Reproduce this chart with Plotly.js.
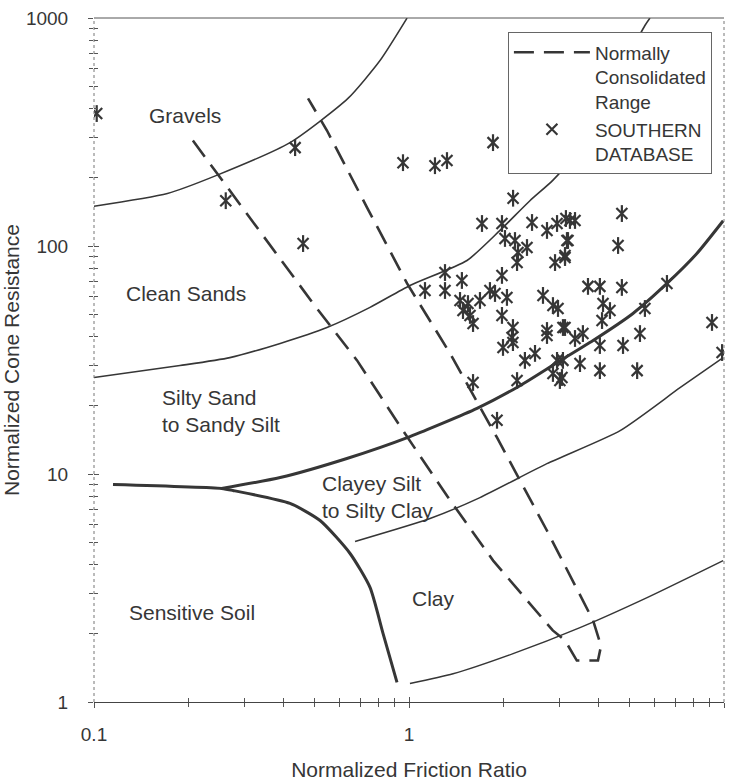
<!DOCTYPE html>
<html>
<head>
<meta charset="utf-8">
<script src="https://cdn.plot.ly/plotly-3.0.1.min.js"></script>
<style>
  html, body { margin: 0; padding: 0; background: #ffffff; }
  #chart { width: 734px; height: 782px; }
</style>
</head>
<body>
<div id="chart"></div>
<script>
// ---------- tick labels ----------
const xTickVals = [0.1, 1, 10];
const xTickText = ['0.1', '1', '10'];
const xMinorVals = [0.2, 0.3, 0.4, 0.5, 0.6, 0.7, 0.8, 0.9, 2, 3, 4, 5, 6, 7, 8, 9];
const yTickVals = [1, 10, 100, 1000];
const yTickText = ['1', '10', '100', '1000'];
const yMinorVals = [2, 3, 4, 5, 6, 7, 8, 9, 20, 30, 40, 50, 60, 70, 80, 90, 200, 300, 400, 500, 600, 700, 800, 900];

// ---------- zone boundaries ----------
const gravelX = [0.1, 0.171, 0.245, 0.419, 0.64, 0.809, 0.986];
const gravelY = [149.5, 170, 204, 284, 444, 651, 1000];

const sandX = [0.1, 0.1875, 0.27, 0.39, 0.549, 0.752, 1.007, 1.528, 1.944, 2.42, 2.86, 3.29, 5.61, 5.82];
const sandY = [26.5, 29.9, 32.4, 37.4, 43.9, 53.8, 67.1, 86.4, 117, 158, 194, 244, 927, 1000];

const siltX = [0.254, 0.39, 0.635, 1.007, 1.644, 2.25, 2.95, 3.84, 5.14, 6.59, 8.2, 9.94];
const siltY = [8.64, 9.65, 11.7, 14.6, 19.4, 24.4, 30.8, 38.5, 50.6, 68.5, 92.7, 129];

const sensitiveX = [0.1149, 0.254, 0.276, 0.419, 0.522, 0.65, 0.752, 0.827, 0.916];
const sensitiveY = [8.99, 8.64, 8.47, 7.43, 6.25, 4.48, 3.18, 2.0, 1.22];

const clayeyX = [0.674, 1.166, 1.68, 2.74, 4.68, 7.25, 9.94];
const clayeyY = [5.06, 6.38, 7.88, 11.1, 15.5, 23.9, 32.4];

const clayX = [1.007, 1.38, 2.14, 3.49, 5.70, 9.94];
const clayY = [1.205, 1.33, 1.63, 2.12, 2.87, 4.17];

// ---------- normally consolidated range ----------
const ncX = [0.206, 0.313, 0.496, 0.684, 0.957, 1.32, 1.85, 2.86, 3.13, 3.41, 3.98, 4.07, 3.84, 2.74, 1.90, 1.35, 0.986, 0.736, 0.549, 0.478];
const ncY = [290, 133, 56, 31.5, 15.5, 8.02, 4.17, 2.06, 1.86, 1.52, 1.52, 1.76, 2.28, 5.65, 14.5, 33.8, 68.5, 147.5, 321, 444];

// ---------- southern database ----------
const dbX = [0.102, 0.435, 0.262, 0.461, 0.957, 1.209, 1.32, 1.848, 4.25,
  2.14, 1.705, 1.973, 2.458, 2.742, 2.951, 3.149, 2.017, 2.17, 2.369,
  2.218, 2.203, 2.908, 3.128, 3.173, 1.301, 1.472, 1.973, 1.124, 1.301,
  1.452, 1.539, 1.68, 1.807, 1.875, 2.046, 1.484, 1.562, 1.597, 1.973,
  2.138, 2.123, 1.988, 2.138, 2.663, 2.864, 2.972, 2.742, 2.742, 3.081,
  2.333, 2.512, 2.951, 2.864, 3.013, 1.597, 2.203, 4.74, 3.243, 3.365,
  3.197, 4.61, 3.128, 3.70, 4.036, 4.74, 4.13, 4.345, 4.10, 5.61,
  6.59, 9.16, 9.86, 5.41, 4.78, 4.036, 3.565, 3.365, 3.128, 3.49,
  4.036, 5.30, 3.081, 3.059, 1.903];
const dbY = [381, 270, 158, 102.5, 232, 225, 237, 284, 230,
  162, 125.5, 125.5, 126.8, 117, 125.5, 132, 107.9, 105.7, 98.5,
  93.6, 84.6, 84.6, 90.9, 105.7, 76.5, 70.6, 74.3, 63.8, 63.8,
  57.7, 55.9, 57.7, 63.8, 61.9, 59.5, 52.1, 49.6, 45.7, 49.6,
  43.9, 39.7, 35.9, 37.7, 60.7, 54.8, 53.2, 42.6, 40.5, 43.9,
  31.5, 33.8, 31.5, 27.6, 25.7, 25.2, 25.7, 138.8, 129.4, 129.4,
  105.7, 100.5, 89.0, 66.5, 66.5, 65.8, 55.9, 52.1, 47.1, 53.2,
  68.5, 46.2, 34.1, 41.3, 36.6, 36.6, 41.3, 39.3, 43.9, 30.5,
  28.4, 28.4, 31.5, 26.5, 17.2];

// ---------- zone labels (log10 positions) ----------
const zoneText = ['Gravels', 'Clean Sands', 'Silty Sand<br>to Sandy Silt', 'Clayey Silt<br>to Silty Clay', 'Sensitive Soil', 'Clay'];
const zoneLogX = [-0.711, -0.708, -0.7905, -0.2825, -0.689, 0.0762];
const zoneLogY = [2.572, 1.792, 1.2785, 0.9013, 0.3925, 0.4539];
const zoneAnchor = ['center', 'center', 'left', 'left', 'center', 'center'];

const INK = '#363636';
const FONT = 'Liberation Sans, Arial, Helvetica, sans-serif';

function boundary(x, y, w) {
  return { x: x, y: y, type: 'scatter', mode: 'lines', showlegend: false, hoverinfo: 'skip',
    line: { color: INK, width: w, shape: 'spline', smoothing: 0.6 } };
}

const traces = [
  boundary(gravelX, gravelY, 1.5),
  boundary(sandX, sandY, 1.6),
  boundary(siltX, siltY, 3),
  boundary(sensitiveX, sensitiveY, 3),
  boundary(clayeyX, clayeyY, 1.5),
  boundary(clayX, clayY, 1.5),
  { x: ncX, y: ncY, type: 'scatter', mode: 'lines', name: 'Normally<br>Consolidated<br>Range',
    line: { color: INK, width: 2.6, dash: '20px,10px' } },
  { x: dbX, y: dbY, type: 'scatter', mode: 'markers', name: 'SOUTHERN<br>DATABASE',
    marker: { symbol: 'x-thin-open', size: 11, color: INK, line: { color: INK, width: 2.2 } } },
  { x: dbX, y: dbY, type: 'scatter', mode: 'markers', showlegend: false, hoverinfo: 'skip',
    marker: { symbol: 'line-ns-open', size: 12, color: INK, line: { color: INK, width: 2.2 } } },
  { x: [0.1], y: [1], xaxis: 'x2', yaxis: 'y2', type: 'scatter', mode: 'markers',
    showlegend: false, hoverinfo: 'skip', marker: { opacity: 0 } }
];

const annotations = zoneText.map((t, i) => ({
  text: t, x: zoneLogX[i], y: zoneLogY[i], xref: 'x', yref: 'y',
  xanchor: zoneAnchor[i], yanchor: 'middle', align: 'left', showarrow: false,
  font: { family: FONT, size: 21, color: INK }
}));

const axisCommon = { type: 'log', showgrid: false, zeroline: false, tickcolor: '#555',
  tickfont: { family: FONT, size: 19, color: INK } };

const layout = {
  width: 734, height: 782,
  margin: { l: 94, r: 10, t: 18, b: 80 },
  paper_bgcolor: '#ffffff', plot_bgcolor: '#ffffff',
  font: { family: FONT, color: INK },
  showlegend: true,
  legend: { x: 0.657, y: 0.979, xanchor: 'left', yanchor: 'top', bgcolor: '#ffffff',
    bordercolor: '#666', borderwidth: 1, itemwidth: 76, valign: 'top', tracegroupgap: 0,
    font: { family: FONT, size: 19, color: INK } },
  xaxis: Object.assign({}, axisCommon, {
    range: [-1, 1], autorange: false,
    tickmode: 'array', tickvals: xTickVals, ticktext: xTickText,
    ticks: 'outside', ticklen: 5, tickwidth: 1, ticklabelstandoff: 10,
    minor: { tickmode: 'array', tickvals: xMinorVals, ticks: 'outside', ticklen: 4, tickcolor: '#555' },
    showline: true, linecolor: '#444', linewidth: 1.2,
    title: { text: 'Normalized Friction Ratio', standoff: 18, font: { family: FONT, size: 21, color: INK } }
  }),
  yaxis: Object.assign({}, axisCommon, {
    range: [0, 3], autorange: false,
    tickmode: 'array', tickvals: yTickVals, ticktext: yTickText,
    ticks: 'outside', ticklen: 5, tickwidth: 1, ticklabelstandoff: 16,
    minor: { tickmode: 'array', tickvals: yMinorVals, ticks: 'outside', ticklen: 4, tickcolor: '#555' },
    showline: false,
    title: { text: 'Normalized Cone Resistance', standoff: 0, font: { family: FONT, size: 21, color: INK } }
  }),
  xaxis2: { type: 'log', range: [-1, 1], autorange: false, overlaying: 'x', anchor: 'y2', side: 'bottom',
    showgrid: false, zeroline: false, showticklabels: false, showline: false,
    tickmode: 'array', tickvals: xTickVals, ticks: 'inside', ticklen: 5, tickcolor: '#555',
    minor: { tickmode: 'array', tickvals: xMinorVals, ticks: 'inside', ticklen: 4, tickcolor: '#555' } },
  yaxis2: { type: 'log', range: [0, 3], autorange: false, overlaying: 'y', anchor: 'x2', side: 'left',
    showgrid: false, zeroline: false, showticklabels: false, showline: false,
    tickmode: 'array', tickvals: yTickVals, ticks: 'inside', ticklen: 5, tickcolor: '#555',
    minor: { tickmode: 'array', tickvals: yMinorVals, ticks: 'inside', ticklen: 4, tickcolor: '#555' } },
  shapes: [
    { type: 'line', xref: 'paper', yref: 'paper', x0: 0, x1: 1, y0: 1, y1: 1, line: { color: '#555', width: 1 } },
    { type: 'line', xref: 'paper', yref: 'paper', x0: 1, x1: 1, y0: 0, y1: 1, line: { color: '#777', width: 1, dash: 'dot' } },
    { type: 'line', xref: 'paper', yref: 'paper', x0: 0, x1: 0, y0: 0, y1: 1, line: { color: '#777', width: 1, dash: 'dot' } }
  ],
  annotations: annotations
};

Plotly.newPlot('chart', traces, layout, { displayModeBar: false, staticPlot: true });
</script>
</body>
</html>
